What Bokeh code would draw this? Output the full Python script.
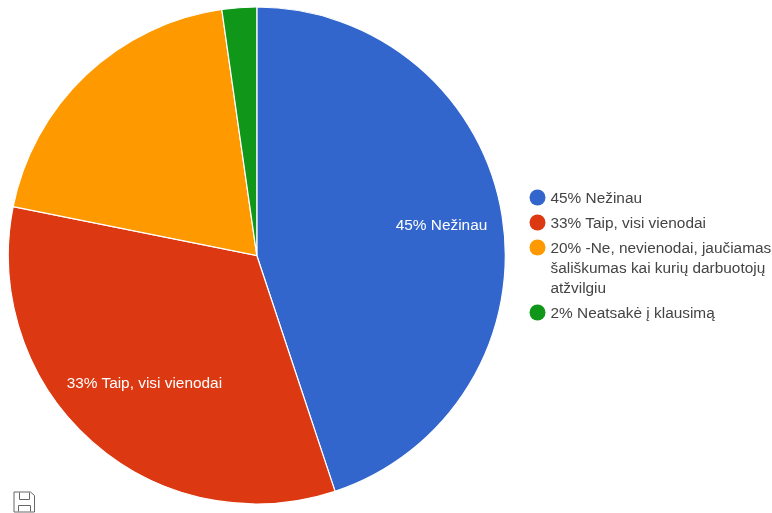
import math
from bokeh.plotting import figure
from bokeh.models import ColumnDataSource, Range1d
from bokeh.core.properties import value
from bokeh.embed import file_html
from bokeh.resources import INLINE

# Data
categories = ["Nežinau", "Taip, visi vienodai", "-Ne, nevienodai", "Neatsakė į klausimą"]
shares = [44.9, 33.25, 19.6, 2.25]
colors = ["#3366cc", "#dc3912", "#ff9900", "#109618"]
legend_lines = [
    ["45% Nežinau"],
    ["33% Taip, visi vienodai"],
    ["20% -Ne, nevienodai, jaučiamas", "šališkumas kai kurių darbuotojų", "atžvilgiu"],
    ["2% Neatsakė į klausimą"],
]
slice_labels = ["45% Nežinau", "33% Taip, visi vienodai"]

W, H = 772, 513
FONT = "Liberation Sans"
def Y(py):
    return H - py

p = figure(width=W, height=H, output_backend="svg", toolbar_location=None,
           x_range=Range1d(0, W), y_range=Range1d(0, H), min_border=0,
           x_axis_location=None, y_axis_location=None,
           outline_line_color=None, background_fill_color="white",
           styles={"position": "fixed", "left": "0px", "top": "0px"})
p.grid.visible = False

# Pie
cx, cy, r = 256.3, Y(255), 248.5
total = sum(shares)
starts, ends, acc = [], [], 0.0
for s in shares:
    starts.append(math.pi / 2 - 2 * math.pi * acc / total)
    acc += s
    ends.append(math.pi / 2 - 2 * math.pi * acc / total)
src = ColumnDataSource(dict(start=starts, end=ends, color=colors))
p.wedge(x=cx, y=cy, radius=r, start_angle="start", end_angle="end", direction="clock",
        fill_color="color", line_color="white", line_width=1.2, source=src)

# Slice labels
p.text(x=[441, 144], y=[Y(224), Y(382)], text=slice_labels, text_color="white",
       text_font=value(FONT), text_font_size="15.4px", text_align="center", text_baseline="middle")

# Legend
marker_y = [197, 222, 247, 312]
p.scatter(x=[537] * 4, y=[Y(v) for v in marker_y], size=16, color=colors, line_color=None)
tx, ty = [], []
for lines, my in zip(legend_lines, marker_y):
    for i, line in enumerate(lines):
        tx.append(550)
        ty.append(Y(my + i * 20 - 0.5))
p.text(x=tx, y=ty, text=[l for ls in legend_lines for l in ls], text_color="#444444",
       text_font=value(FONT), text_font_size="15.4px", text_align="left", text_baseline="middle")

# Save icon
p.multi_line(xs=[[13.5, 30, 34, 34, 13.5, 13.5], [19, 19, 29, 29], [18, 18, 30, 30]],
             ys=[[Y(v) for v in vs] for vs in [[491.5, 491.5, 495, 511.5, 511.5, 491.5],
                                               [492, 499, 499, 492], [511, 505, 505, 511]]],
             line_color="#666666", line_width=1)

open("out.html", "w").write(file_html(p, INLINE))
